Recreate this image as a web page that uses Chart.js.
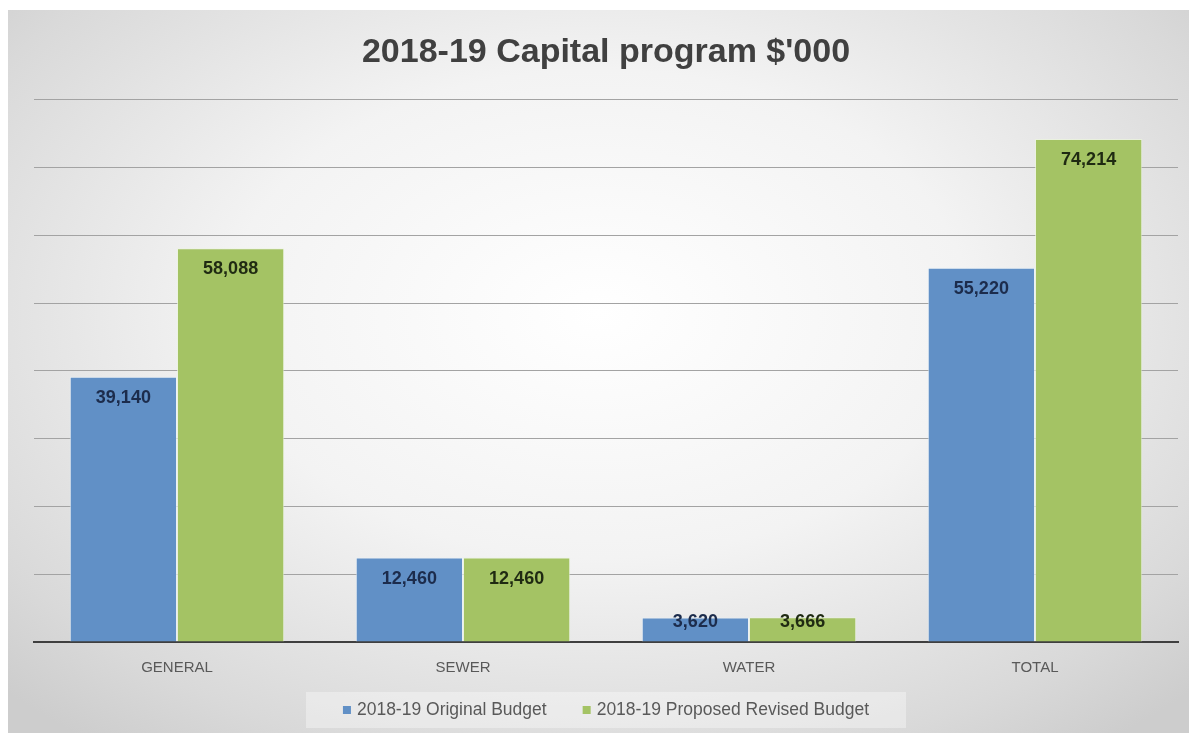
<!DOCTYPE html>
<html>
<head>
<meta charset="utf-8">
<script src="https://cdn.jsdelivr.net/npm/chart.js@4/dist/chart.umd.min.js"></script>
<style>
  body { margin: 0; background: #ffffff; }
  #wrap { position: relative; width: 1189px; height: 733px; overflow: hidden; }
  #frame {
    position: absolute; left: 8px; top: 10px; right: 0; bottom: 0;
    background: radial-gradient(ellipse 70% 75% at 50% 42%, #ffffff 0%, #f3f3f3 45%, #d9d9d9 85%, #cdcdcd 100%);
  }
  canvas { position: absolute; left: 0; top: 0; }
</style>
</head>
<body>
<div id="wrap">
  <div id="frame"></div>
  <canvas id="chart" width="1189" height="733"></canvas>
</div>
<script>
// Données du graphique
const categories = ["GENERAL", "SEWER", "WATER", "TOTAL"];
const originalBudget = [39140, 12460, 3620, 55220];
const revisedBudget = [58088, 12460, 3666, 74214];
const seriesNames = ["2018-19 Original Budget", "2018-19 Proposed Revised Budget"];

const blue = "#6190c6";
const green = "#a4c364";
const fontFamily = '"Liberation Sans", "DejaVu Sans", sans-serif';

// Étiquettes de valeur à l'intérieur du haut des barres
const valueLabels = {
  id: "valueLabels",
  afterDatasetsDraw(chart) {
    const ctx = chart.ctx;
    ctx.save();
    ctx.font = "bold 18px " + fontFamily;
    ctx.textAlign = "center";
    ctx.textBaseline = "middle";
    chart.data.datasets.forEach((ds, i) => {
      ctx.fillStyle = i === 0 ? "#1c2c4c" : "#1f2a12";
      chart.getDatasetMeta(i).data.forEach((bar, j) => {
        // barre trop courte : l'étiquette remonte vers le haut de la barre
        const h = bar.base - bar.y;
        const off = h >= 45 ? 21 : 5;
        ctx.fillText(ds.data[j].toLocaleString("en-US"), bar.x, bar.y + off);
      });
    });
    ctx.restore();
  }
};

// Légende dessinée à la main (boîte claire en bas)
const bottomLegend = {
  id: "bottomLegend",
  afterDraw(chart) {
    const ctx = chart.ctx;
    ctx.save();
    ctx.fillStyle = "rgba(255,255,255,0.35)";
    ctx.fillRect(306, 692, 600, 36);
    ctx.font = "17.5px " + fontFamily;
    ctx.textBaseline = "middle";
    const colors = [blue, green];
    const gap = 36;
    let widths = seriesNames.map(t => 8 + 6 + ctx.measureText(t).width);
    let total = widths[0] + widths[1] + gap;
    let x = 606 - total / 2;
    seriesNames.forEach((t, i) => {
      ctx.fillStyle = colors[i];
      ctx.fillRect(x, 706, 8, 8);
      ctx.fillStyle = "#595959";
      ctx.fillText(t, x + 14, 710);
      x += widths[i] + gap;
    });
    ctx.restore();
  }
};

new Chart(document.getElementById("chart"), {
  type: "bar",
  plugins: [valueLabels, bottomLegend],
  data: {
    labels: categories,
    datasets: [
      { label: seriesNames[0], data: originalBudget, backgroundColor: blue,
        borderColor: "rgba(235,242,250,0.7)", borderWidth: 1 },
      { label: seriesNames[1], data: revisedBudget, backgroundColor: green,
        borderColor: "rgba(235,245,220,0.7)", borderWidth: 1 }
    ]
  },
  options: {
    responsive: false,
    devicePixelRatio: 1,
    animation: false,
    layout: { padding: { left: 34, right: 11, top: 0, bottom: 39 } },
    datasets: { bar: { categoryPercentage: 0.75, barPercentage: 1.0 } },
    plugins: {
      legend: { display: false },
      tooltip: { enabled: false },
      title: {
        display: true,
        text: "2018-19 Capital program $'000",
        color: "#404040",
        font: { family: fontFamily, size: 34, weight: "bold" },
        padding: { top: 32, bottom: 27 }
      }
    },
    scales: {
      x: {
        grid: { display: false, drawTicks: false },
        border: { display: true, color: "#3f3f3f", width: 2 },
        ticks: { color: "#595959", font: { family: fontFamily, size: 15 }, padding: 17 }
      },
      y: {
        min: 0,
        max: 80000,
        ticks: { display: false, stepSize: 10000 },
        grid: { color: "#a3a3a3", lineWidth: 1, drawTicks: false },
        border: { display: false }
      }
    }
  }
});
</script>
</body>
</html>
